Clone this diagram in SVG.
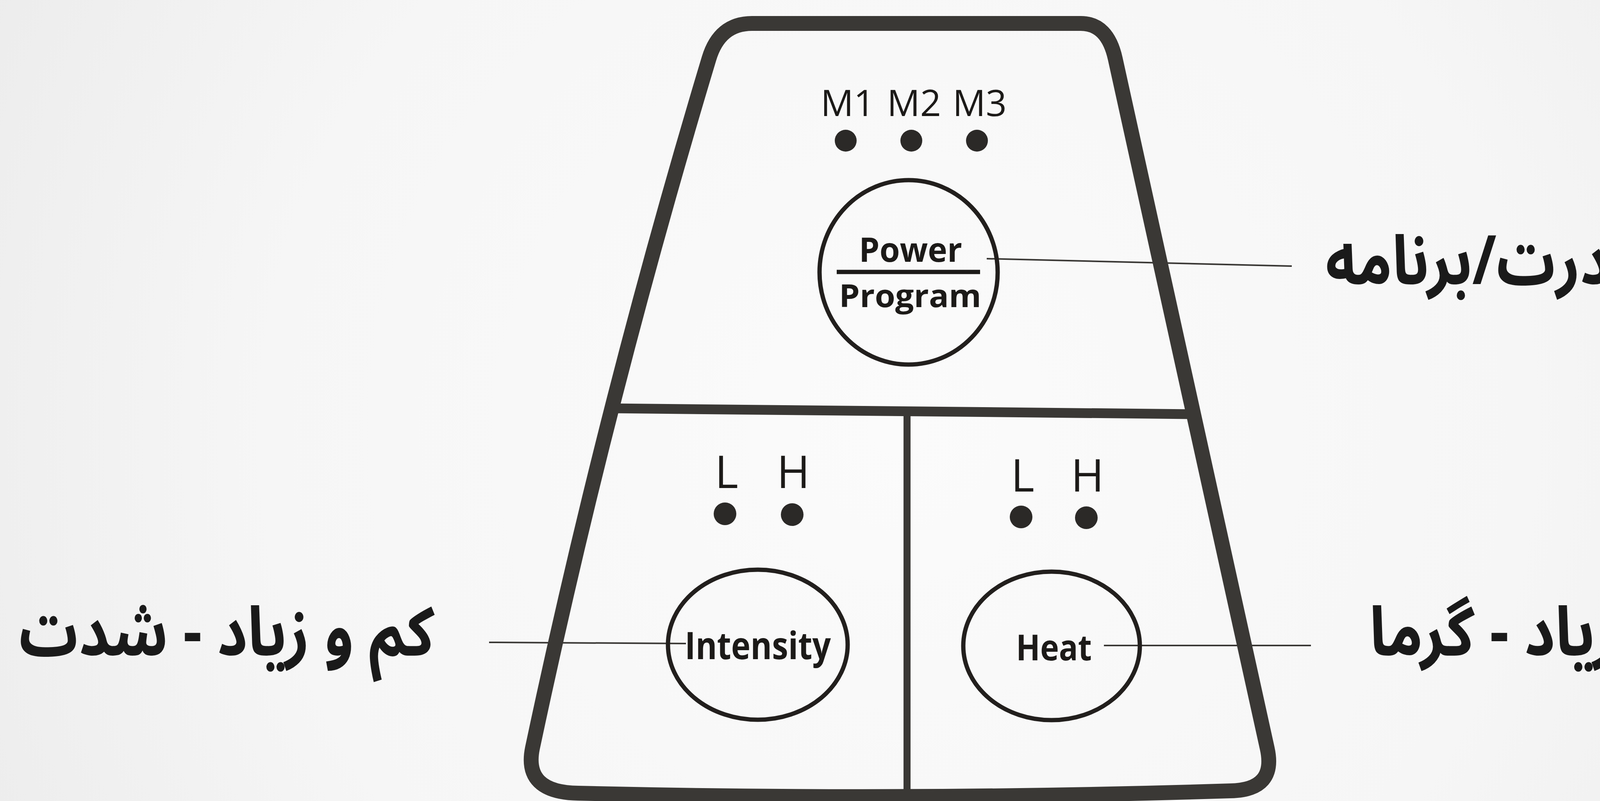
<svg xmlns="http://www.w3.org/2000/svg" width="4586" height="2050" viewBox="0 0 4586 2050">
<defs>
<radialGradient id="bg" cx="2300" cy="1100" r="2700" gradientUnits="userSpaceOnUse">
<stop offset="0" stop-color="#fbfbfb"/>
<stop offset="0.6" stop-color="#f6f6f6"/>
<stop offset="1" stop-color="#ebebeb"/>
</radialGradient>
<style>
.frame{fill:none;stroke:#3a3835;stroke-linejoin:round;stroke-linecap:round}
.btn{fill:none;stroke:#221f1d;stroke-width:11}
.led{fill:#2b2927}
.lbl{font-family:"Open Sans","Noto Sans","DejaVu Sans",sans-serif;fill:#1c1a18;text-anchor:middle}
.bold{font-weight:700}
.fa{font-family:"Noto Sans Arabic","DejaVu Sans",sans-serif;font-weight:700;fill:#1a1a1a;text-anchor:middle}
.conn{stroke:#3a3835;stroke-width:4;fill:none}
</style>
</defs>
<rect x="0" y="0" width="4586" height="2050" fill="url(#bg)"/>

<g id="panel">
<path class="frame" stroke-width="38" fill="#f9f9f9" d="M 1925,60 L 2767,60 Q 2835,60 2855,150 L 3244,1915 Q 3268,2022 3150,2024 Q 2320,2050 1480,2030 Q 1340,2028 1363,1915 Q 1553,1020 1815,150 Q 1842,60 1925,60 Z"/>
<line class="frame" stroke-width="25" stroke-linecap="butt" x1="1566" y1="1045" x2="3056" y2="1060"/>
<line class="frame" stroke-width="18" stroke-linecap="butt" x1="2322" y1="1052" x2="2322" y2="2045"/>
</g>

<g id="connectors">
<line class="conn" x1="2526" y1="662" x2="3307" y2="681"/>
<line class="conn" x1="1252" y1="1644" x2="1756" y2="1647"/>
<line class="conn" x1="2826" y1="1652" x2="3356" y2="1652"/>
</g>

<g id="mode-leds">
<text class="lbl" x="2170" y="297" font-size="94">M1</text>
<text class="lbl" x="2340" y="297" font-size="94">M2</text>
<text class="lbl" x="2508" y="297" font-size="94">M3</text>
<circle class="led" cx="2165" cy="360" r="28"/>
<circle class="led" cx="2333" cy="360" r="28"/>
<circle class="led" cx="2501" cy="360" r="28"/>
</g>

<g id="power-button">
<ellipse class="btn" cx="2326" cy="697" rx="228" ry="236"/>
<text class="lbl bold" x="2331" y="670" font-size="86" textLength="264" lengthAdjust="spacingAndGlyphs">Power</text>
<line x1="2142" y1="696" x2="2509" y2="696" stroke="#1c1a18" stroke-width="11"/>
<text class="lbl bold" x="2330" y="786" font-size="80" textLength="364" lengthAdjust="spacingAndGlyphs">Program</text>
</g>

<g id="intensity-leds">
<text class="lbl" x="1860" y="1249" font-size="115">L</text>
<text class="lbl" x="2031" y="1249" font-size="115">H</text>
<circle class="led" cx="1856" cy="1315" r="29"/>
<circle class="led" cx="2028" cy="1317" r="29"/>
</g>

<g id="intensity-button">
<ellipse class="btn" cx="1940" cy="1650" rx="230" ry="192"/>
<text class="lbl bold" x="1940" y="1687" font-size="96" textLength="374" lengthAdjust="spacingAndGlyphs">Intensity</text>
</g>

<g id="heat-leds">
<text class="lbl" x="2618" y="1258" font-size="115">L</text>
<text class="lbl" x="2784" y="1258" font-size="115">H</text>
<circle class="led" cx="2614" cy="1323" r="29"/>
<circle class="led" cx="2781" cy="1325" r="29"/>
</g>

<g id="heat-button">
<ellipse class="btn" cx="2692" cy="1653" rx="226" ry="190"/>
<text class="lbl bold" x="2698" y="1690" font-size="92" textLength="194" lengthAdjust="spacingAndGlyphs">Heat</text>
</g>

<g id="label-power">
<text class="fa" x="3980" y="727" font-size="175" direction="rtl" textLength="1173" lengthAdjust="spacingAndGlyphs">دکمه قدرت/برنامه</text>
</g>
<g id="label-intensity">
<text class="fa" x="580" y="1677" font-size="175" direction="rtl" textLength="1063" lengthAdjust="spacingAndGlyphs">کم و زیاد - شدت</text>
</g>
<g id="label-heat">
<text class="fa" x="3986" y="1677" font-size="175" direction="rtl" textLength="961" lengthAdjust="spacingAndGlyphs">کم و زیاد - گرما</text>
</g>
</svg>
